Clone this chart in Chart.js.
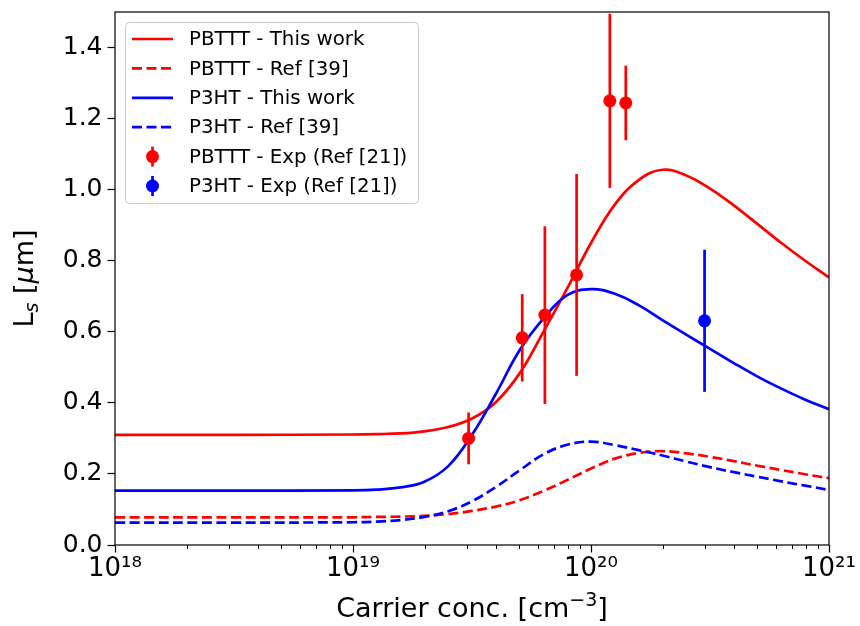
<!DOCTYPE html>
<html>
<head>
<meta charset="utf-8">
<script src="https://cdn.jsdelivr.net/npm/chart.js@4.4.0/dist/chart.umd.min.js"></script>
<style>
  body { margin: 0; background: #fff; }
  #wrap { width: 860px; height: 626px; }
</style>
</head>
<body>
<div id="wrap"><canvas id="grafico" width="860" height="626"></canvas></div>
<script>
// log10 of the carrier concentration (cm^-3) where the model curves are sampled
const logConc = [18, 18.5, 19, 19.1, 19.2, 19.3, 19.4, 19.5, 19.6, 19.7, 19.8, 19.9, 20, 20.1, 20.2, 20.3, 20.4, 20.5, 20.6, 20.7, 20.8, 20.9, 21];

// L_s in um
const pbtttThisWork = [0.310, 0.310, 0.311, 0.312, 0.314, 0.320, 0.332, 0.356, 0.402, 0.483, 0.600, 0.722, 0.850, 0.958, 1.027, 1.056, 1.040, 1.003, 0.956, 0.903, 0.850, 0.800, 0.753];
const pbtttRef39    = [0.078, 0.078, 0.078, 0.079, 0.080, 0.082, 0.087, 0.096, 0.108, 0.126, 0.152, 0.183, 0.215, 0.243, 0.259, 0.264, 0.258, 0.248, 0.236, 0.223, 0.211, 0.199, 0.188];
const p3htThisWork  = [0.153, 0.153, 0.154, 0.156, 0.162, 0.178, 0.222, 0.310, 0.425, 0.548, 0.637, 0.703, 0.720, 0.707, 0.675, 0.633, 0.592, 0.552, 0.512, 0.474, 0.440, 0.409, 0.382];
const p3htRef39     = [0.063, 0.063, 0.064, 0.066, 0.070, 0.079, 0.095, 0.123, 0.163, 0.210, 0.255, 0.282, 0.291, 0.281, 0.267, 0.252, 0.235, 0.219, 0.205, 0.192, 0.179, 0.167, 0.155];

// measurements (Ref [21]) with symmetric error bars
const pbtttExpConc = [3.06e19, 5.14e19, 6.4e19, 8.7e19, 1.2e20, 1.4e20];
const pbtttExpLs   = [0.300, 0.583, 0.647, 0.760, 1.250, 1.244];
const pbtttExpErr  = [0.073, 0.123, 0.250, 0.284, 0.245, 0.105];
const p3htExpConc  = [3.0e20];
const p3htExpLs    = [0.631];
const p3htExpErr   = [0.200];

const xTicks = [1e18, 1e19, 1e20, 1e21];
const yTicks = [0, 0.2, 0.4, 0.6, 0.8, 1.0, 1.2, 1.4];

const FONT = "'DejaVu Sans', 'Liberation Sans', sans-serif";
const RED = '#ff0000';
const BLUE = '#0000ff';
const LW = 2.7;
const DASH = [10, 4.5];

const curva = vals => logConc.map((e, i) => ({ x: Math.pow(10, e), y: vals[i] }));
const pontos = (xs, ys) => xs.map((x, i) => ({ x: x, y: ys[i] }));

const sup = { '0': '\u2070', '1': '\u00b9', '2': '\u00b2', '3': '\u00b3', '4': '\u2074',
              '5': '\u2075', '6': '\u2076', '7': '\u2077', '8': '\u2078', '9': '\u2079' };
const potencia = v => '10' + String(Math.round(Math.log10(v))).split('').map(c => sup[c]).join('');

function linha(label, vals, cor, tracejado, ordem) {
  return {
    label: label,
    data: curva(vals),
    showLine: true,
    borderColor: cor,
    backgroundColor: cor,
    borderWidth: LW,
    borderDash: tracejado ? DASH : [],
    pointRadius: 0,
    pointHoverRadius: 0,
    tension: 0.4,
    order: ordem
  };
}

function medidas(label, xs, ys, errs, cor, ordem) {
  return {
    label: label,
    data: pontos(xs, ys),
    errors: errs,
    showLine: false,
    borderColor: cor,
    backgroundColor: cor,
    pointBackgroundColor: cor,
    pointBorderWidth: 0,
    pointRadius: 6.5,
    pointHoverRadius: 6.5,
    order: ordem
  };
}

// vertical error bars, drawn just under each point dataset
const barrasErro = {
  id: 'barrasErro',
  beforeDatasetDraw(chart, args) {
    const ds = chart.data.datasets[args.index];
    if (!ds.errors) return;
    const { ctx, chartArea: a, scales } = chart;
    ctx.save();
    ctx.beginPath();
    ctx.rect(a.left, a.top, a.right - a.left, a.bottom - a.top);
    ctx.clip();
    ctx.strokeStyle = ds.borderColor;
    ctx.lineWidth = LW;
    ds.data.forEach((p, i) => {
      const x = scales.x.getPixelForValue(p.x);
      ctx.beginPath();
      ctx.moveTo(x, scales.y.getPixelForValue(p.y - ds.errors[i]));
      ctx.lineTo(x, scales.y.getPixelForValue(p.y + ds.errors[i]));
      ctx.stroke();
    });
    ctx.restore();
  }
};

function textoRico(ctx, partes, x, y) {
  let w = 0;
  partes.forEach(p => { ctx.font = p[1]; w += ctx.measureText(p[0]).width; });
  let cx = x - w / 2;
  partes.forEach(p => {
    ctx.font = p[1];
    ctx.fillText(p[0], cx, y + p[2]);
    cx += ctx.measureText(p[0]).width;
  });
}

// frame, minor log ticks, axis titles and the legend box
const moldura = {
  id: 'moldura',
  afterDatasetsDraw(chart) {
    const { ctx, chartArea: a, scales } = chart;
    ctx.save();
    ctx.strokeStyle = '#000';
    ctx.lineWidth = 1.2;
    ctx.strokeRect(a.left, a.top, a.right - a.left, a.bottom - a.top);
    ctx.lineWidth = 1;
    for (let d = 18; d < 21; d++) {
      for (let m = 2; m <= 9; m++) {
        const x = Math.round(scales.x.getPixelForValue(m * Math.pow(10, d))) + 0.5;
        ctx.beginPath();
        ctx.moveTo(x, a.bottom);
        ctx.lineTo(x, a.bottom + 4);
        ctx.stroke();
      }
    }
    ctx.restore();
  },
  afterDraw(chart) {
    const { ctx, chartArea: a } = chart;
    ctx.save();
    ctx.fillStyle = '#000';
    ctx.textAlign = 'left';
    ctx.textBaseline = 'alphabetic';

    textoRico(ctx, [
      ['Carrier conc. [cm', '27px ' + FONT, 0],
      ['\u22123', '19px ' + FONT, -11],
      [']', '27px ' + FONT, 0]
    ], (a.left + a.right) / 2, 617);

    ctx.save();
    ctx.translate(33, (a.top + a.bottom) / 2);
    ctx.rotate(-Math.PI / 2);
    textoRico(ctx, [
      ['L', '27px ' + FONT, 0],
      ['s', 'italic 19px ' + FONT, 5],
      [' [', '27px ' + FONT, 0],
      ['\u03bc', 'italic 27px ' + FONT, 0],
      ['m]', '27px ' + FONT, 0]
    ], 0, 0);
    ctx.restore();

    // legend
    const bx = 125.5, by = 22.5, bw = 293, bh = 181;
    ctx.beginPath();
    ctx.roundRect(bx, by, bw, bh, 4);
    ctx.fillStyle = 'rgba(255,255,255,0.8)';
    ctx.fill();
    ctx.strokeStyle = '#cccccc';
    ctx.lineWidth = 1;
    ctx.stroke();

    ctx.font = '19.8px ' + FONT;
    ctx.textBaseline = 'middle';
    chart.data.datasets.forEach((ds, i) => {
      const y = 39 + i * 29.4;
      ctx.strokeStyle = ds.borderColor;
      ctx.fillStyle = ds.borderColor;
      ctx.lineWidth = LW;
      if (ds.errors) {
        ctx.setLineDash([]);
        ctx.beginPath();
        ctx.moveTo(152.5, y - 10);
        ctx.lineTo(152.5, y + 10);
        ctx.stroke();
        ctx.beginPath();
        ctx.arc(152.5, y, 6.5, 0, Math.PI * 2);
        ctx.fill();
      } else {
        ctx.setLineDash(ds.borderDash);
        ctx.beginPath();
        ctx.moveTo(132, y);
        ctx.lineTo(173, y);
        ctx.stroke();
      }
      ctx.setLineDash([]);
      ctx.fillStyle = '#000';
      ctx.fillText(ds.label, 189, y + 1);
    });
    ctx.restore();
  }
};

const ctx = document.getElementById('grafico').getContext('2d');
const meuChart = new Chart(ctx, {
  type: 'scatter',
  data: {
    datasets: [
      linha('PBTTT - This work', pbtttThisWork, RED, false, 6),
      linha('PBTTT - Ref [39]', pbtttRef39, RED, true, 5),
      linha('P3HT - This work', p3htThisWork, BLUE, false, 4),
      linha('P3HT - Ref [39]', p3htRef39, BLUE, true, 3),
      medidas('PBTTT - Exp (Ref [21])', pbtttExpConc, pbtttExpLs, pbtttExpErr, RED, 2),
      medidas('P3HT - Exp (Ref [21])', p3htExpConc, p3htExpLs, p3htExpErr, BLUE, 1)
    ]
  },
  options: {
    responsive: false,
    animation: false,
    maintainAspectRatio: false,
    layout: { padding: { top: 12, right: 31, left: 0, bottom: 0 } },
    plugins: {
      legend: { display: false },
      tooltip: { enabled: false }
    },
    scales: {
      x: {
        type: 'logarithmic',
        min: 1e18,
        max: 1e21,
        border: { display: false },
        grid: { drawOnChartArea: false, drawTicks: true, tickLength: 7.5, tickColor: '#000', tickWidth: 1.2 },
        ticks: {
          color: '#000',
          font: { family: FONT, size: 26 },
          padding: 1,
          maxRotation: 0,
          autoSkip: false,
          callback: v => potencia(v)
        },
        afterBuildTicks: s => { s.ticks = xTicks.map(v => ({ value: v, major: true })); },
        afterFit: s => { s.height = 81; s.paddingLeft = 0; s.paddingRight = 0; }
      },
      y: {
        min: 0,
        max: 1.5,
        border: { display: false },
        grid: { drawOnChartArea: false, drawTicks: true, tickLength: 7.5, tickColor: '#000', tickWidth: 1.2 },
        ticks: {
          color: '#000',
          font: { family: FONT, size: 25 },
          padding: 5,
          callback: v => v.toFixed(1)
        },
        afterBuildTicks: s => { s.ticks = yTicks.map(v => ({ value: v })); },
        afterFit: s => { s.width = 115; s.paddingTop = 0; s.paddingBottom = 0; }
      }
    }
  },
  plugins: [barrasErro, moldura]
});
</script>
</body>
</html>
